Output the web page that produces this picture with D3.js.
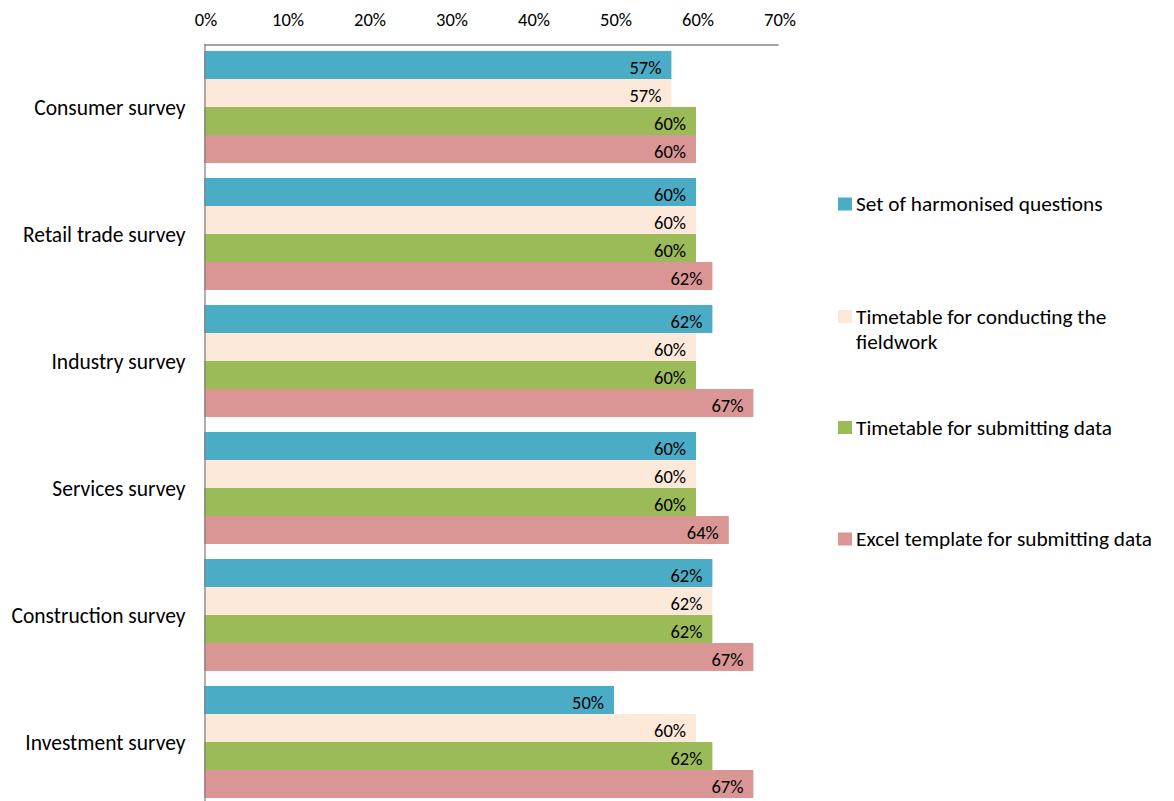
<!DOCTYPE html>
<html>
<head>
<meta charset="utf-8">
<script src="https://cdn.jsdelivr.net/npm/d3@7"></script>
<style>
  html, body { margin: 0; padding: 0; background: #fff; }
  svg { display: block; font-family: Carlito, Calibri, Lato, "Open Sans", sans-serif; }
</style>
</head>
<body>
<svg id="chart" width="1174" height="801"></svg>
<script>
// Survey categories (top to bottom)
const categories = [
  "Consumer survey",
  "Retail trade survey",
  "Industry survey",
  "Services survey",
  "Construction survey",
  "Investment survey"
];

// Series names (legend order, also bar order inside each group)
const seriesNames = [
  "Set of harmonised questions",
  "Timetable for conducting the fieldwork",
  "Timetable for submitting data",
  "Excel template for submitting data"
];

// Share of respondents, per series, in category order
const harmonisedQuestions = [0.57, 0.60, 0.62, 0.60, 0.62, 0.50];
const fieldworkTimetable  = [0.57, 0.60, 0.60, 0.60, 0.62, 0.60];
const submissionTimetable = [0.60, 0.60, 0.60, 0.60, 0.62, 0.62];
const excelTemplate       = [0.60, 0.62, 0.67, 0.64, 0.67, 0.67];

const seriesValues = [harmonisedQuestions, fieldworkTimetable, submissionTimetable, excelTemplate];
const seriesColors = ["#4BACC6", "#FDE9D9", "#9BBB59", "#D99694"];

// Axis ticks
const tickValues = [0, 0.1, 0.2, 0.3, 0.4, 0.5, 0.6, 0.7];

// Legend text, wrapped as drawn
const legendLines = [
  ["Set of harmonised questions"],
  ["Timetable for conducting the", "fieldwork"],
  ["Timetable for submitting data"],
  ["Excel template for submitting data"]
];

const svg = d3.select("#chart");

const x = d3.scaleLinear().domain([0, 0.7]).range([204, 778]);

const y = d3.scaleBand()
  .domain(categories)
  .range([43.5, 805.5])
  .paddingInner(15 / 127)
  .paddingOuter(7.5 / 127);

const ySeries = d3.scaleBand()
  .domain(seriesNames)
  .range([0, y.bandwidth()])
  .padding(0);

const fmt = d3.format(".0%");

// Bars
const groups = svg.append("g")
  .selectAll("g")
  .data(categories)
  .join("g")
  .attr("transform", d => `translate(0,${y(d)})`);

const cells = (c, i) => seriesNames.map((s, j) => ({ s, j, v: seriesValues[j][i] }));

groups.selectAll("rect")
  .data(cells)
  .join("rect")
  .attr("x", x(0))
  .attr("y", d => ySeries(d.s))
  .attr("width", d => x(d.v) - x(0))
  .attr("height", ySeries.bandwidth())
  .attr("fill", d => seriesColors[d.j]);

// Value labels inside bar ends
groups.selectAll("text")
  .data(cells)
  .join("text")
  .attr("x", d => x(d.v) - 10)
  .attr("y", d => ySeries(d.s) + ySeries.bandwidth() / 2 + 8.5)
  .attr("text-anchor", "end")
  .attr("font-size", 18.5)
  .attr("fill", "#000")
  .text(d => fmt(d.v));

// Top axis with percentage ticks
const xAxis = d3.axisTop(x)
  .tickValues(tickValues)
  .tickFormat(fmt)
  .tickSize(0)
  .tickPadding(19);

const gx = svg.append("g")
  .attr("transform", "translate(0,44.5)")
  .call(xAxis)
  .attr("font-family", null)
  .attr("font-size", null);
gx.select(".domain").attr("stroke", "#868686").attr("stroke-width", 1.3);
gx.selectAll("text")
  .attr("font-size", 18.5)
  .attr("dx", 1.5)
  .attr("fill", "#000");

// Left axis: vertical line plus category labels
const yAxis = d3.axisLeft(y).tickSize(0).tickPadding(19);
const gy = svg.append("g")
  .attr("transform", "translate(204.5,0)")
  .call(yAxis)
  .attr("font-family", null)
  .attr("font-size", null);
gy.select(".domain").attr("stroke", "#868686").attr("stroke-width", 1.3);
gy.selectAll("text")
  .attr("font-size", 21.5)
  .attr("dy", "0.36em")
  .attr("fill", "#000");

// Legend
const legendY = [204, 316.5, 427.5, 539];
const legend = svg.append("g")
  .selectAll("g")
  .data(seriesNames)
  .join("g")
  .attr("transform", (d, i) => `translate(838,${legendY[i]})`);

legend.append("rect")
  .attr("x", 0)
  .attr("y", -6.5)
  .attr("width", 14)
  .attr("height", 13)
  .attr("fill", (d, i) => seriesColors[i]);

legend.append("text")
  .attr("x", 18)
  .attr("y", 7)
  .attr("font-size", 21.3)
  .attr("fill", "#000")
  .selectAll("tspan")
  .data((d, i) => legendLines[i])
  .join("tspan")
  .attr("x", 18)
  .attr("dy", (d, k) => k === 0 ? 0 : 25.5)
  .text(d => d);
</script>
</body>
</html>
